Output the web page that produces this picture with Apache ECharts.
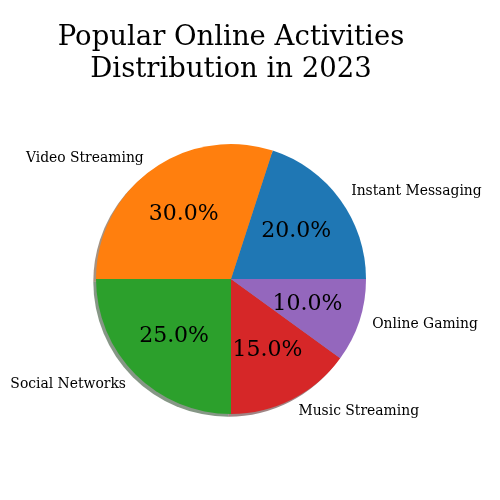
<!DOCTYPE html>
<html><head><meta charset="utf-8">
<script src="https://cdn.jsdelivr.net/npm/echarts@6/dist/echarts.min.js"></script>
<style>html,body{margin:0;padding:0;background:#fff}#c{width:500px;height:500px}</style>
</head><body><div id="c"></div>
<script>
const categories = ['Instant Messaging', 'Video Streaming', 'Social Networks', 'Music Streaming', 'Online Gaming'];
const values = [20, 30, 25, 15, 10];
const colors = ['#1f77b4', '#ff7f0e', '#2ca02c', '#d62728', '#9467bd'];
const titleText = 'Popular Online Activities\nDistribution in 2023';

const CX = 231, CY = 279, R = 135;
const FONT = 'DejaVu Serif';

function shadowColor(hex) {
  const r = parseInt(hex.slice(1, 3), 16), g = parseInt(hex.slice(3, 5), 16), b = parseInt(hex.slice(5, 7), 16);
  return 'rgba(' + Math.round(r * 0.3) + ',' + Math.round(g * 0.3) + ',' + Math.round(b * 0.3) + ',0.5)';
}

const chart = echarts.init(document.getElementById('c'), null, { renderer: 'canvas' });
chart.setOption({
  animation: false,
  backgroundColor: '#fff',
  title: {
    text: titleText,
    left: CX - 5, textAlign: 'center', top: 17,
    textStyle: { fontFamily: FONT, fontSize: 27.5, fontWeight: 'normal', color: '#000', lineHeight: 32 }
  },
  series: [
    {
      type: 'pie', silent: true, z: 1,
      center: [CX - 2.7, CY + 2.7], radius: [0, R],
      startAngle: 0, clockwise: false,
      label: { show: false }, labelLine: { show: false },
      data: values.map((v, i) => ({ name: categories[i], value: v, itemStyle: { color: shadowColor(colors[i]) } }))
    },
    {
      type: 'pie', silent: true, z: 2,
      center: [CX, CY], radius: [0, R],
      startAngle: 0, clockwise: false,
      avoidLabelOverlap: false,
      label: {
        show: true, position: 'outside', formatter: '{b}',
        fontFamily: FONT, fontSize: 13.9, color: '#000', distanceToLabelLine: 0
      },
      labelLine: { show: false, length: R * 0.1, length2: 0 },
      data: values.map((v, i) => ({ name: categories[i], value: v, itemStyle: { color: colors[i] } }))
    },
    {
      type: 'pie', silent: true, z: 3,
      center: [CX, CY], radius: [20, R],
      startAngle: 0, clockwise: false,
      avoidLabelOverlap: false,
      itemStyle: { color: 'rgba(0,0,0,0)' },
      label: {
        show: true, position: 'inside',
        formatter: p => p.percent.toFixed(1) + '%',
        fontFamily: FONT, fontSize: 22, color: '#000'
      },
      labelLine: { show: false },
      data: values.map((v, i) => ({ name: categories[i], value: v }))
    }
  ]
});
</script></body></html>
